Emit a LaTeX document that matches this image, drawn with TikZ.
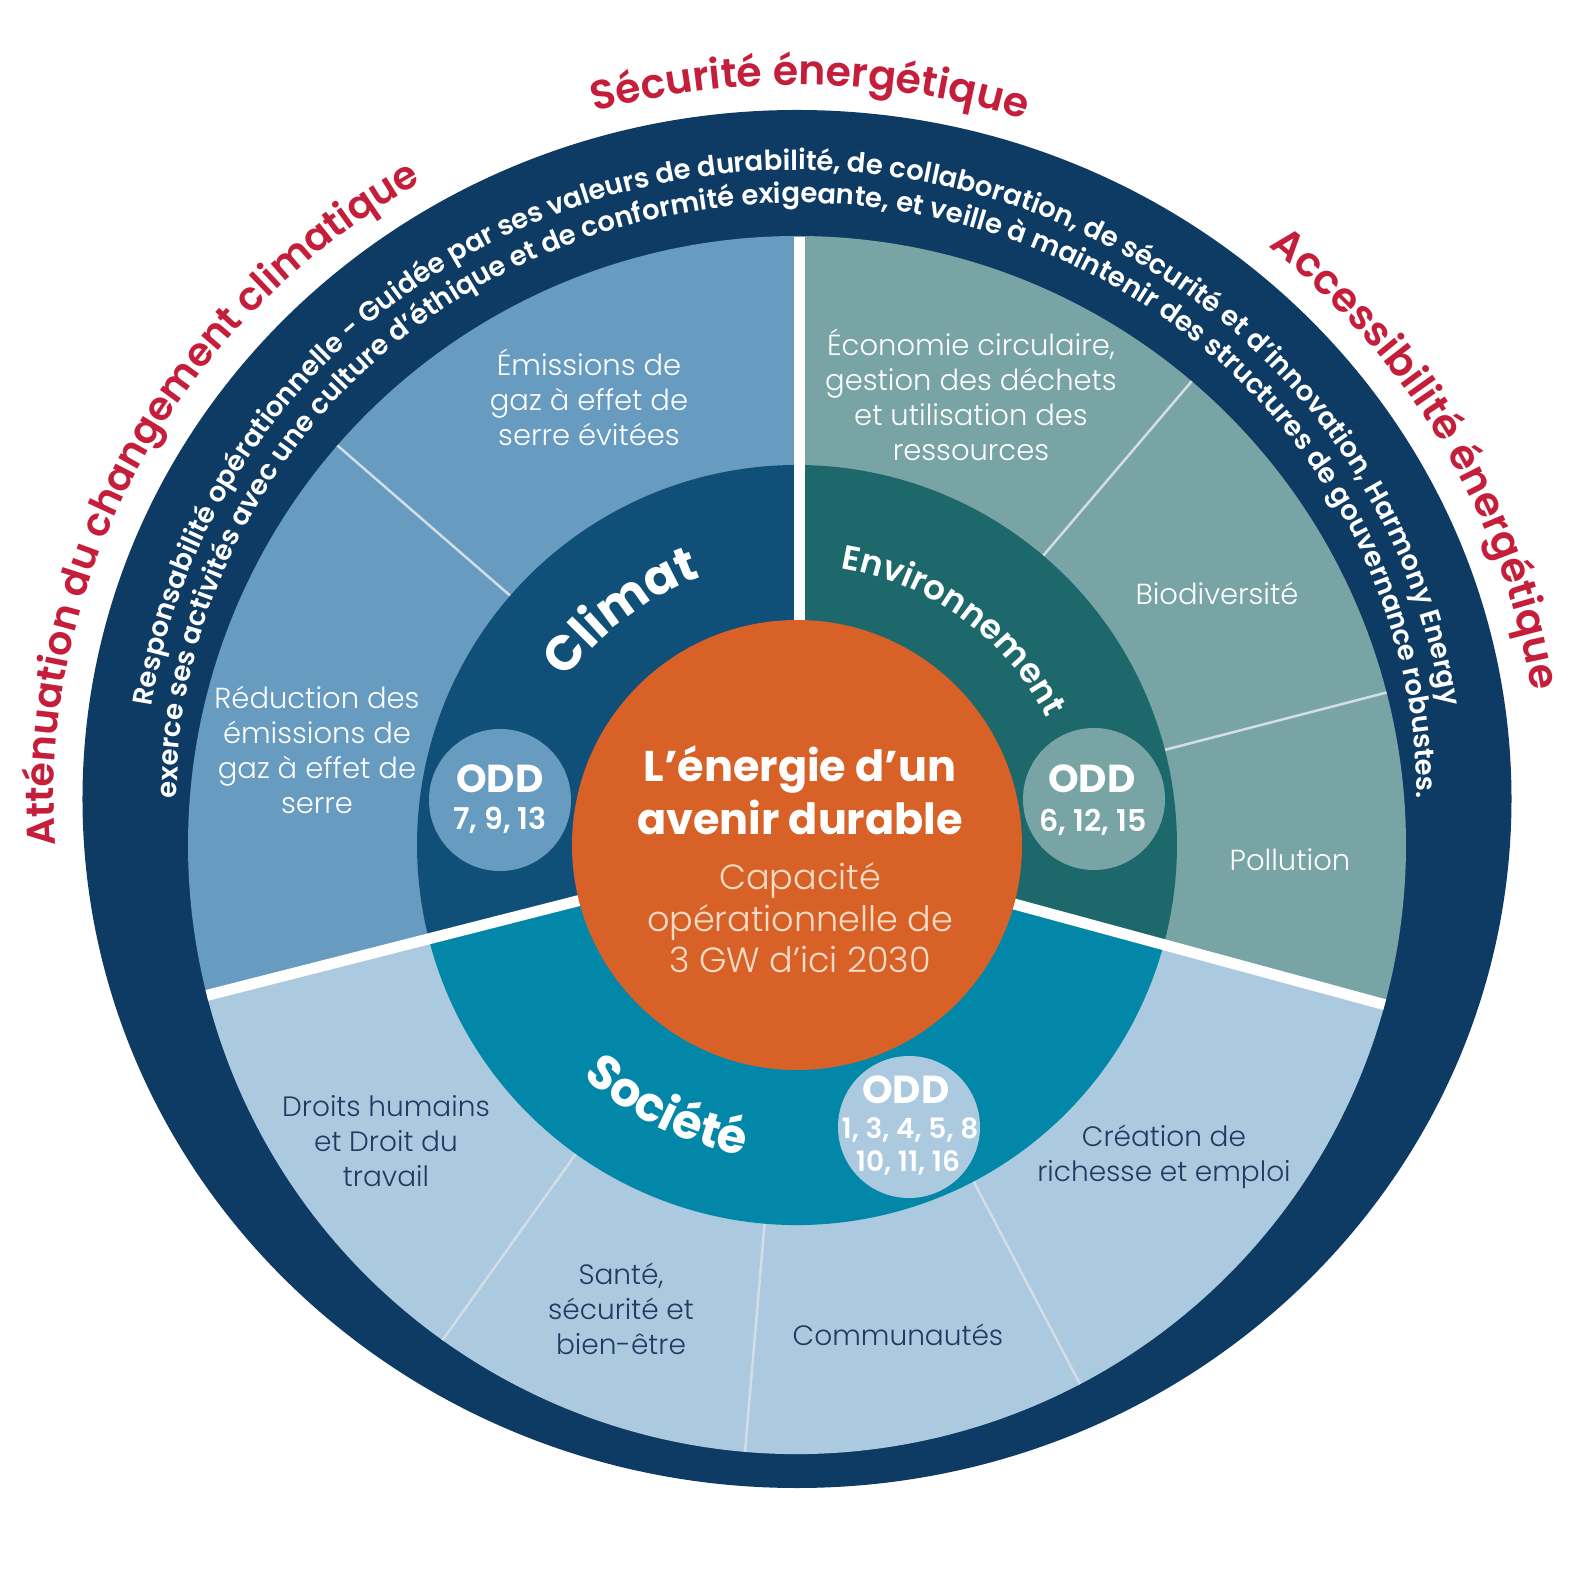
\documentclass[tikz,border=0pt]{standalone}
\usepackage{fontspec}
\setmainfont{Poppins}
\newfontfamily\popL{Poppins Light}
\newfontfamily\popSB{Poppins SemiBold}
\newfontfamily\popB{Poppins Bold}
\usetikzlibrary{decorations.text,calc}
\definecolor{navy}{HTML}{0E3B64}
\definecolor{climL}{HTML}{679BC0}
\definecolor{climM}{HTML}{105078}
\definecolor{envL}{HTML}{79A4A6}
\definecolor{envM}{HTML}{1D686B}
\definecolor{socL}{HTML}{ABCADF}
\definecolor{socM}{HTML}{0387A8}
\definecolor{orangeC}{HTML}{D86128}
\definecolor{redT}{HTML}{C41E3A}
\definecolor{peach}{HTML}{F9DCC8}
\definecolor{socT}{HTML}{1F3B63}
\definecolor{subline}{HTML}{D3DDE5}
\begin{document}
\begin{tikzpicture}[x=1pt,y=1pt,
  lbl/.style={align=center, font=\popL\fontsize{29}{35}\selectfont, text=white, inner sep=0pt},
  lbld/.style={lbl, font=\popL\fontsize{28}{35}\selectfont, text=socT},
  oddc/.style={circle, minimum size=142pt, inner sep=0pt},
  oddh/.style={font=\popB\fontsize{39}{39}\selectfont, text=white, anchor=base, inner sep=0pt},
  oddn/.style={font=\popSB\fontsize{30}{30}\selectfont, text=white, anchor=base, inner sep=0pt},
  titl/.style={font=\popB\fontsize{43}{43}\selectfont, text=white, anchor=base, inner sep=0pt},
  subt/.style={font=\popL\fontsize{35}{35}\selectfont, text=peach, anchor=base, inner sep=0pt},
  divider/.style={draw=white, line width=11pt},
  subdiv/.style={draw=subline, line width=2.5pt}
]
\useasboundingbox (-797,-725) rectangle (773,845);
% outer navy ring
\fill[navy] (0,46) ellipse[x radius=714.5, y radius=689];
% light sectors
\fill[climL] (0,0) -- (90:609) arc[start angle=90, end angle=194.3, radius=609] -- cycle;
\fill[envL] (0,0) -- (-15.2:609) arc[start angle=-15.2, end angle=90, radius=609] -- cycle;
\fill[socL] (0,0) -- (194.3:609) arc[start angle=194.3, end angle=344.8, radius=609] -- cycle;
% sub dividers
\foreach \a in {139,49.6,14.5,234.4,265.1,297.7} \draw[subdiv] (\a:378) -- (\a:609);
% middle sectors
\fill[climM] (0,0) -- (90:380) arc[start angle=90, end angle=194.3, radius=380] -- cycle;
\fill[envM] (0,0) -- (-15.2:380) arc[start angle=-15.2, end angle=90, radius=380] -- cycle;
\fill[socM] (0,0) -- (194.3:380) arc[start angle=194.3, end angle=344.8, radius=380] -- cycle;
% white dividers
\coordinate (c0) at (0,0);
\coordinate (ctop0) at (2,0);
\coordinate (dtop) at (2,608);
\coordinate (dleft) at (194.3:609);
\coordinate (dright) at (-15.2:609);
\draw[divider] (ctop0) -- (dtop);
\draw[divider] (c0) -- (dleft);
\draw[divider] (c0) -- (dright);
% centre
\node[circle, fill=orangeC, minimum size=450pt, inner sep=0pt] (core) at (0,0) {};
\node[titl] (t1) at (3,63) {L’énergie d’un};
\node[titl] (t2) at (3,10) {avenir durable};
\node[subt] (s1) at (3,-45) {Capacité};
\node[subt] (s2) at (3,-87) {opérationnelle de};
\node[subt] (s3) at (3,-128) {3 GW d’ici 2030};
% ODD circles
\node[oddc, fill=climL] (oddA) at (-297,45) {};
\node[oddh] (oddAh) at (-297,52) {ODD};
\node[oddn] (oddAn) at (-297,15) {7, 9, 13};
\node[oddc, fill=envL] (oddB) at (297,46) {};
\node[oddh] (oddBh) at (295,52) {ODD};
\node[oddn] (oddBn) at (296,13) {6, 12, 15};
\node[oddc, fill=socL] (oddC) at (112,-282) {};
\node[oddh] (oddCh) at (109,-258) {ODD};
\node[oddn, font=\popSB\fontsize{28}{28}\selectfont] (oddCn1) at (113,-293) {1, 3, 4, 5, 8};
\node[oddn, font=\popSB\fontsize{28}{28}\selectfont] (oddCn2) at (111,-326) {10, 11, 16};
% segment labels
\node[lbl] (l1) at (-208,448) {Émissions de\\gaz à effet de\\serre évitées};
\node[lbl] (l2) at (-480,95) {Réduction des\\émissions de\\gaz à effet de\\serre};
\node[lbl] (l3) at (174,450) {Économie circulaire,\\gestion des déchets\\et utilisation des\\ressources};
\node[lbl] (l4) at (420,252) {Biodiversité};
\node[lbl] (l5) at (493,-15) {Pollution};
\node[lbld] (l6) at (-411,-296) {Droits humains\\et Droit du\\travail};
\node[lbld] (l7) at (-176,-464) {Santé,\\sécurité et\\bien-être};
\node[lbld] (l8) at (101,-490) {Communautés};
\node[lbld] (l9) at (367,-312) {Création de\\richesse et emploi};
% curved ring labels
\path[decorate, decoration={text along path, text align=center, text color=white,
  text={|\popB\fontsize{49}{49}\selectfont|Climat}}]
  (167:284) arc[start angle=167, end angle=87, radius=284];
\path[decorate, decoration={text along path, text align=center, text color=white,
  text={|\popSB\fontsize{34}{34}\selectfont|Environnement}}]
  (99:280) arc[start angle=99, end angle=9, radius=280];
\path[decorate, decoration={text along path, text align=center, text color=white,
  text={|\popB\fontsize{48}{48}\selectfont|Société}}]
  (203.7:315) arc[start angle=203.7, end angle=283.7, radius=315];
% text on navy ring
\path[decorate, decoration={text along path, text align=center, text color=white,
  text={|\popSB\fontsize{27.5}{27.5}\selectfont|Responsabilité opérationnelle - Guidée par ses valeurs de durabilité, de collaboration, de sécurité et d’innovation, Harmony Energy}}]
  ($(0,46)+(186:652 and 629)$) arc[start angle=186, end angle=-6, x radius=652, y radius=629];
\path[decorate, decoration={text along path, text align=center, text color=white,
  text={|\popSB\fontsize{27.5}{27.5}\selectfont|exerce ses activités avec une culture d’éthique et de conformité exigeante, et veille à maintenir des structures de gouvernance robustes.}}]
  ($(0,46)+(196:620 and 596)$) arc[start angle=196, end angle=-16, x radius=620, y radius=596];
% red outer labels
\path[decorate, decoration={text along path, text align=center, text color=redT,
  text={|\popSB\fontsize{39.5}{39.5}\selectfont|Atténuation du changement climatique}}]
  ($(0,46)+(200:743 and 714)$) arc[start angle=200, end angle=104.6, x radius=743, y radius=714];
\path[decorate, decoration={text along path, text align=center, text color=redT,
  text={|\popSB\fontsize{41}{41}\selectfont|Sécurité énergétique}}]
  ($(0,46)+(134:743 and 714)$) arc[start angle=134, end angle=44, x radius=743, y radius=714];
\path[decorate, decoration={text along path, text align=center, text color=redT,
  text={|\popSB\fontsize{41}{41}\selectfont|Accessibilité énergétique}}]
  ($(0,46)+(74:743 and 714)$) arc[start angle=74, end angle=-15.4, x radius=743, y radius=714];
\end{tikzpicture}
\end{document}
